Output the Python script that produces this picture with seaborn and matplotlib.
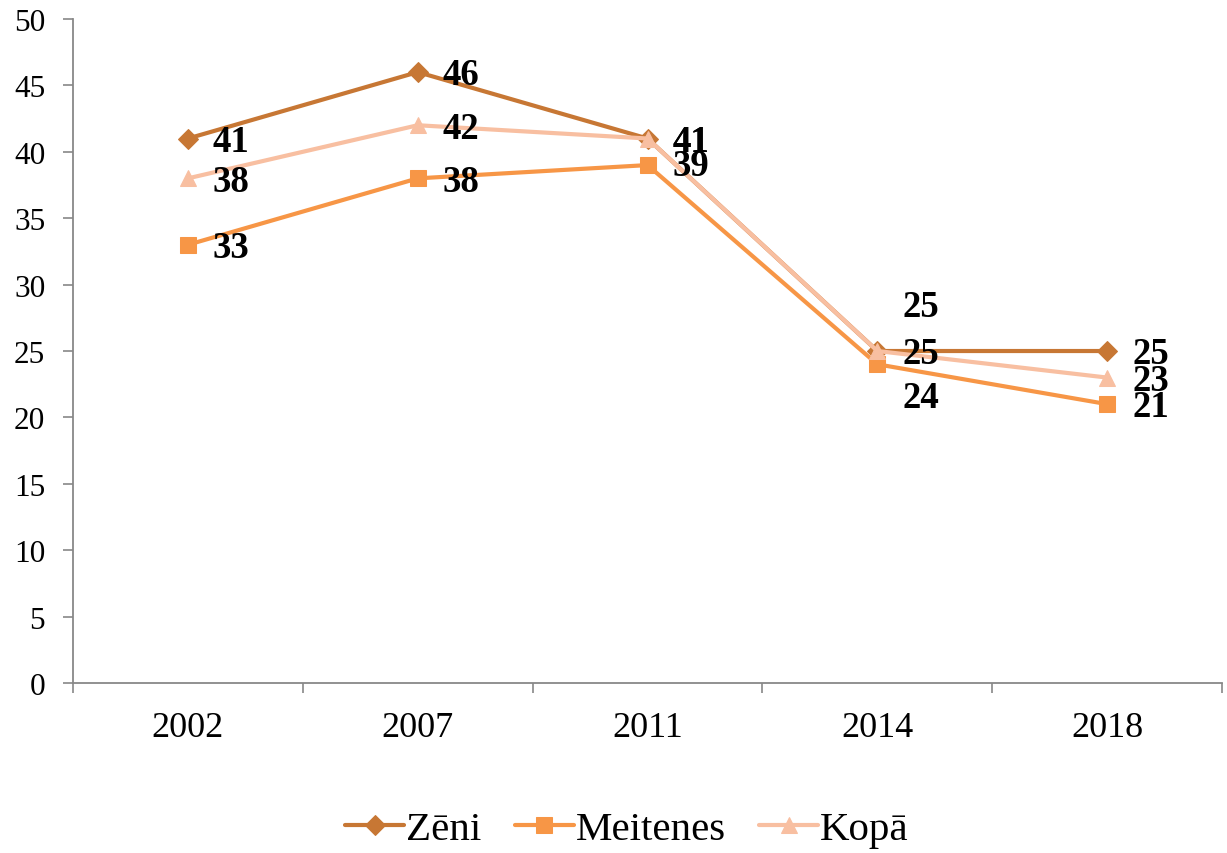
import matplotlib
matplotlib.use("Agg")
import matplotlib.pyplot as plt
import seaborn as sns
import pandas as pd

years = ["2002", "2007", "2011", "2014", "2018"]
zeni = [41, 46, 41, 25, 25]
meitenes = [33, 38, 39, 24, 21]
kopa = [38, 42, 41, 25, 23]
series_names = ["Zēni", "Meitenes", "Kopā"]
colors = {"Zēni": "#C77734", "Meitenes": "#F79646", "Kopā": "#F8BFA1"}
markers = {"Zēni": "D", "Meitenes": "s", "Kopā": "^"}

sns.set_theme(style="white")
plt.rcParams["font.family"] = ["Liberation Serif", "DejaVu Serif"]
plt.rcParams["text.color"] = "black"
plt.rcParams["xtick.color"] = "black"
plt.rcParams["ytick.color"] = "black"

rows = []
for name, vals in zip(series_names, [zeni, meitenes, kopa]):
    for y, v in zip(years, vals):
        rows.append({"year": y, "value": v, "series": name})
df = pd.DataFrame(rows)

fig = plt.figure(figsize=(12.27, 8.54), dpi=100)
ax = fig.add_axes([0.0595, 0.199, 0.9365, 0.7776])

sizes = {"Zēni": 10.5, "Meitenes": 11.5, "Kopā": 12}
for name in series_names:
    sub = df[df["series"] == name]
    sns.lineplot(data=sub, x="year", y="value", ax=ax, color=colors[name],
                 marker=markers[name], markersize=sizes[name], markeredgecolor=colors[name],
                 linewidth=3.0, label=name, sort=False)

# data labels
offsets = {
    "Zēni": [(18, -2), (18, -2), (18, -2), (18, 32), (18, -2)],
    "Meitenes": [(18, -2), (18, -2), (18, 0), (18, -24), (18, -2)],
    "Kopā": [(18, -2), (18, -2), (18, -2), (18, -2), (18, -2)],
}
for name, vals in zip(series_names, [zeni, meitenes, kopa]):
    for i, v in enumerate(vals):
        dx, dy = offsets[name][i]
        ax.annotate(str(v), xy=(i, v), xytext=(dx, dy), textcoords="offset points",
                    ha="left", va="center", fontsize=26.5, fontweight="bold", color="black")

ax.set_xlim(-0.5, 4.5)
ax.set_ylim(0, 50)
ax.set_yticks(range(0, 51, 5))
ax.set_xticks(range(len(years)))
ax.set_xticklabels(years)
ax.set_xticks([i - 0.5 for i in range(len(years) + 1)], minor=True)
ax.tick_params(axis="x", which="major", length=0, pad=20, labelsize=26, labelcolor="black")
ax.tick_params(axis="x", which="minor", length=7, width=1.2, color="#888888", direction="out", bottom=True)
ax.tick_params(axis="y", length=7, width=1.2, color="#888888", direction="out", left=True,
               labelsize=22.5, pad=13, labelcolor="black")
ax.set_xlabel("")
ax.set_ylabel("")
for s in ["top", "right"]:
    ax.spines[s].set_visible(False)
for s in ["left", "bottom"]:
    ax.spines[s].set_color("#888888")
    ax.spines[s].set_linewidth(1.3)
ax.grid(False)

ax.get_legend().remove()
handles, labels = ax.get_legend_handles_labels()
fig.legend(handles, labels, loc="center", bbox_to_anchor=(0.511, 0.028), ncol=3,
           frameon=False, fontsize=29.5, handlelength=1.45, handletextpad=0.05, columnspacing=0.8)

fig.savefig("out.png", dpi=100)
